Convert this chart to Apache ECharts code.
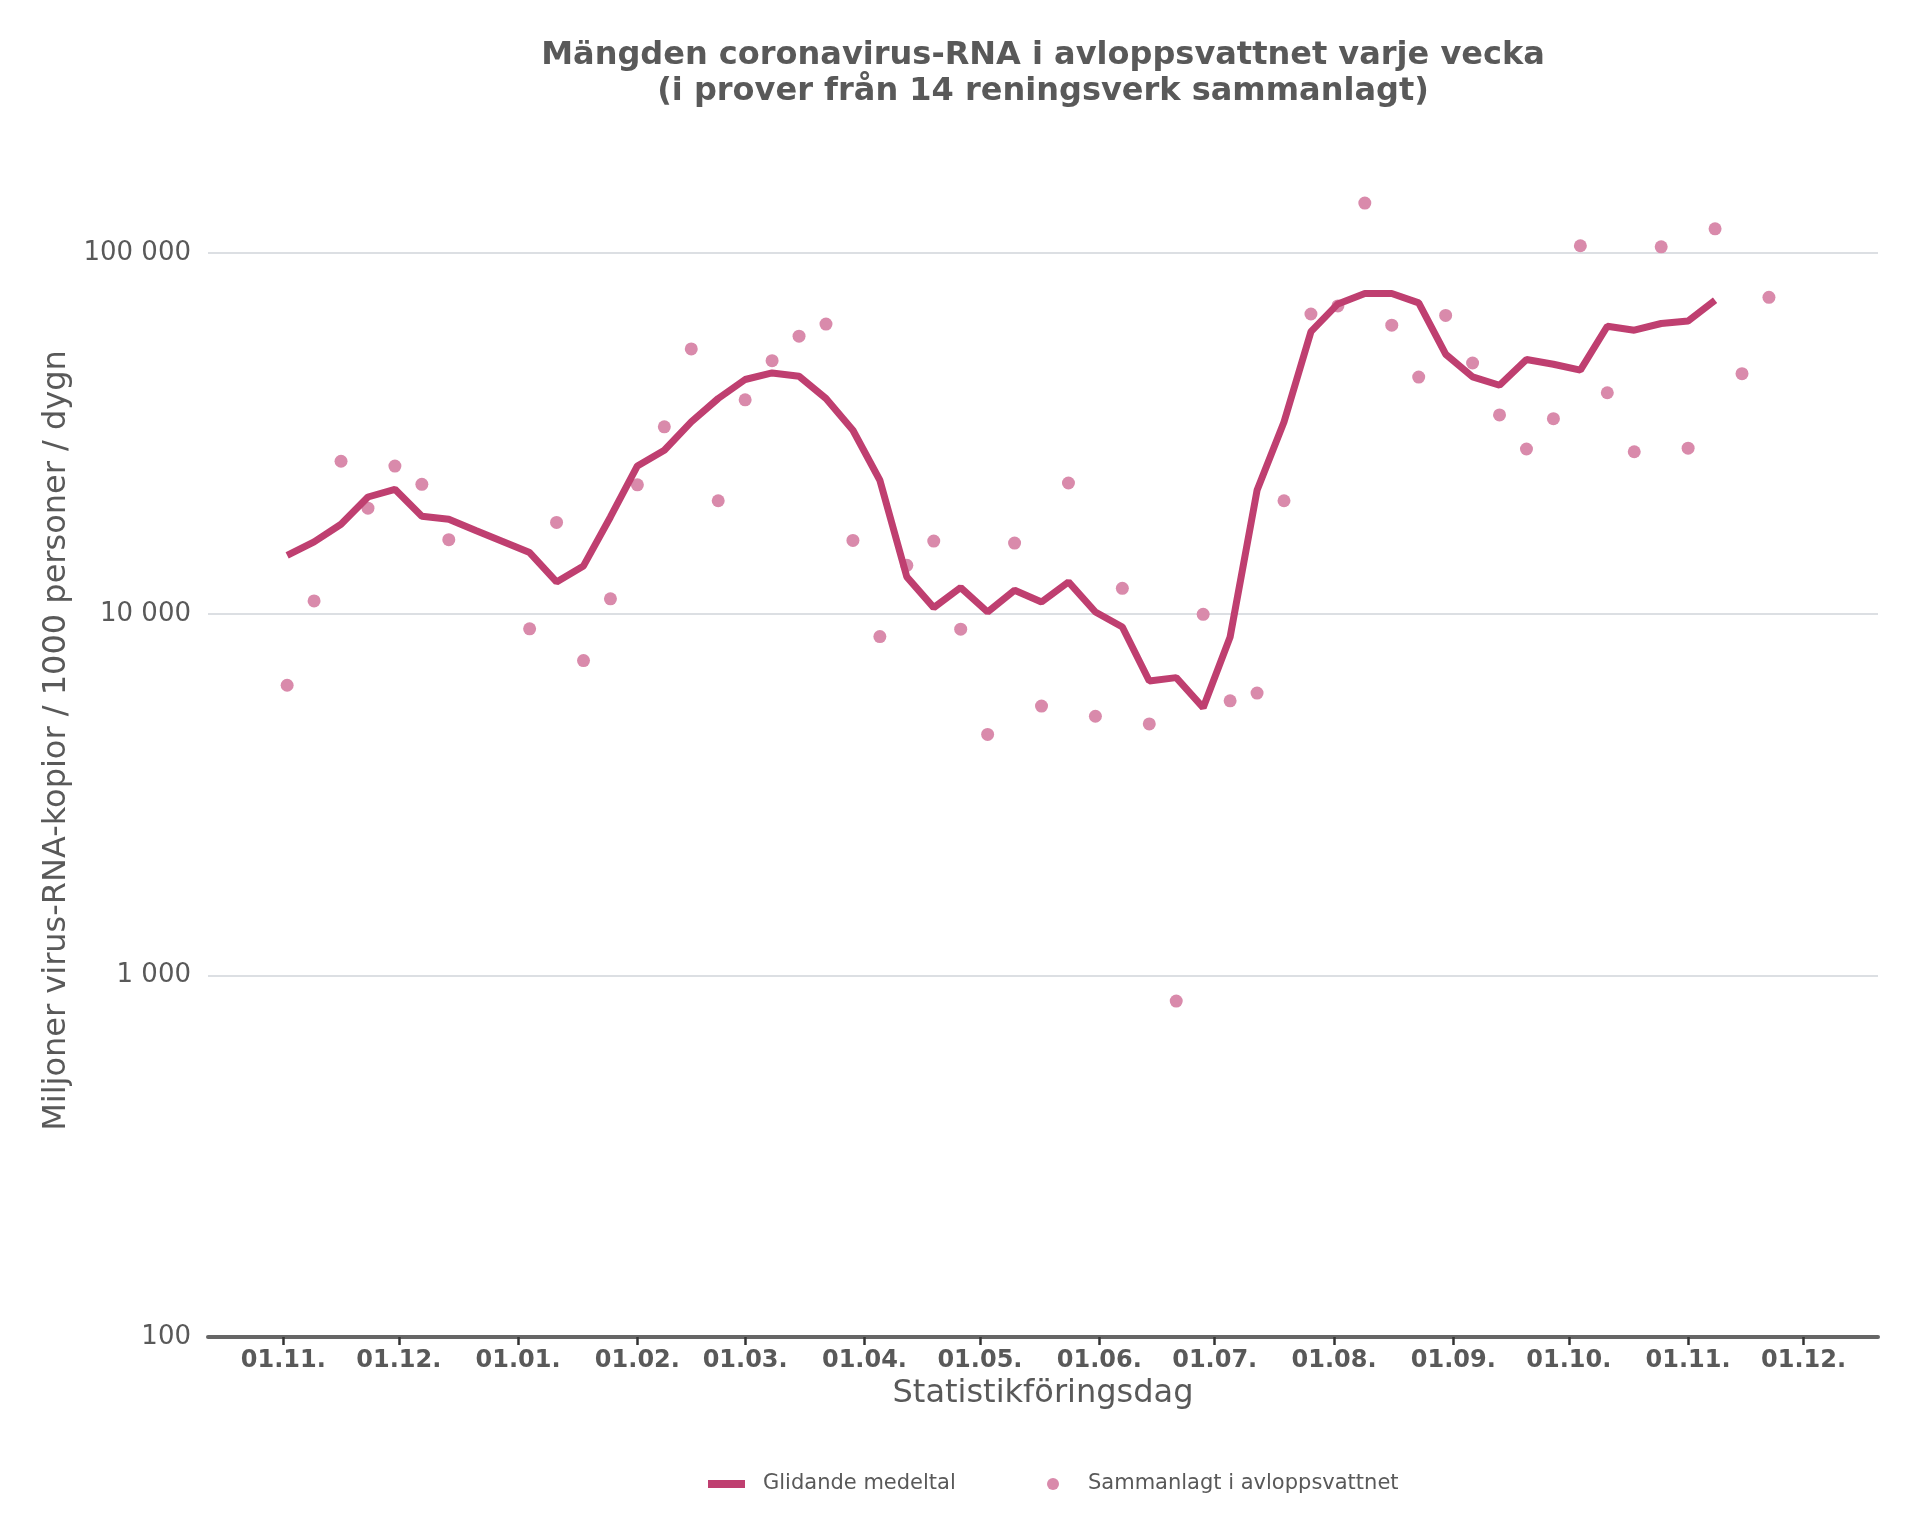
<!DOCTYPE html>
<html>
<head>
<meta charset="utf-8">
<script src="https://cdn.jsdelivr.net/npm/echarts@6/dist/echarts.min.js"></script>
<style>html,body{margin:0;padding:0;background:#fff}#c{width:1920px;height:1536px}</style>
</head>
<body>
<div id="c"></div>
<script>
// Weekly sample dates (statistikföringsdag)
const weekDates = [
  '2021-11-02','2021-11-09','2021-11-16','2021-11-23','2021-11-30','2021-12-07','2021-12-14','2021-12-21','2021-12-28',
  '2022-01-04','2022-01-11','2022-01-18','2022-01-25','2022-02-01','2022-02-08','2022-02-15','2022-02-22',
  '2022-03-01','2022-03-08','2022-03-15','2022-03-22','2022-03-29','2022-04-05','2022-04-12','2022-04-19','2022-04-26',
  '2022-05-03','2022-05-10','2022-05-17','2022-05-24','2022-05-31','2022-06-07','2022-06-14','2022-06-21','2022-06-28',
  '2022-07-05','2022-07-12','2022-07-19','2022-07-26','2022-08-02','2022-08-09','2022-08-16','2022-08-23','2022-08-30',
  '2022-09-06','2022-09-13','2022-09-20','2022-09-27','2022-10-04','2022-10-11','2022-10-18','2022-10-25',
  '2022-11-01','2022-11-08','2022-11-15','2022-11-22'
];
// Glidande medeltal (moving average), starting at weekDates[0]
const movingAvg = [
  14550,15850,17740,21100,22160,18660,18310,17050,15890,
  14810,12280,13600,18580,25720,28420,34040,39520,
  44610,46520,45550,39520,32280,23480,12680,10430,11850,
  10140,11650,10810,12280,10140,9220,6534,6675,5514,
  8648,22020,34040,60500,72200,77160,77160,72670,52400,
  45350,43010,50660,49170,47330,62620,61070,63730,
  64780,73930
];
// Sammanlagt i avloppsvattnet (weekly totals), null = no sample
const totalValues = [
  6360,10880,26500,19650,25700,22880,16080,null,null,
  9110,17950,7440,11030,22800,33000,54200,20600,
  39200,50300,58800,63500,16000,8670,13650,15930,9090,
  4650,15730,5570,23070,5220,11790,4970,850,9990,
  5760,6050,20600,67700,71300,137300,63050,45300,67100,
  49550,35600,28650,34750,104600,41000,28150,103900,
  28800,116500,46300,75300
];
const xTickDates = ['2021-11-01','2021-12-01','2022-01-01','2022-02-01','2022-03-01','2022-04-01','2022-05-01',
  '2022-06-01','2022-07-01','2022-08-01','2022-09-01','2022-10-01','2022-11-01','2022-12-01'];
const xTickLabels = ['01.11.','01.12.','01.01.','01.02.','01.03.','01.04.','01.05.',
  '01.06.','01.07.','01.08.','01.09.','01.10.','01.11.','01.12.'];
const yTickValues = [100, 1000, 10000, 100000];
const yTickLabels = ['100', '1 000', '10 000', '100 000'];

function toTime(s, h, mi) {
  const p = s.split('-').map(Number);
  return Date.UTC(p[0], p[1] - 1, p[2], h || 0, mi || 0);
}
const xTickTimes = xTickDates.map(d => toTime(d));
const FONT = 'DejaVu Sans';
const TXT = '#595959';

const chart = echarts.init(document.getElementById('c'), null, {renderer: 'canvas'});
chart.setOption({
  animation: false,
  backgroundColor: '#ffffff',
  title: {
    text: 'Mängden coronavirus-RNA i avloppsvattnet varje vecka\n(i prover från 14 reningsverk sammanlagt)',
    left: 1038, top: 33, textAlign: 'center',
    textStyle: {fontFamily: FONT, fontSize: 32, fontWeight: 'bold', color: TXT, lineHeight: 36}
  },
  legend: [
    {
      data: [{name: 'Glidande medeltal', icon: 'rect'}],
      left: 708, top: 1473.5, padding: 0, itemWidth: 37, itemHeight: 8, selectedMode: false,
      textStyle: {fontFamily: FONT, fontSize: 21, color: TXT, padding: [0, 0, 0, 13]}
    },
    {
      data: [{name: 'Sammanlagt i avloppsvattnet', icon: 'circle'}],
      left: 1047, top: 1473.5, padding: 0, itemWidth: 12, itemHeight: 12, selectedMode: false,
      textStyle: {fontFamily: FONT, fontSize: 21, color: TXT, padding: [0, 0, 0, 24]}
    }
  ],
  grid: {left: 208, right: 42, top: 144, bottom: 199, containLabel: false},
  xAxis: {
    type: 'value',
    min: toTime('2021-10-12', 10, 30),
    max: toTime('2022-12-20', 8, 0),
    name: 'Statistikföringsdag',
    nameLocation: 'middle',
    nameGap: 41,
    nameTextStyle: {fontFamily: FONT, fontSize: 32, color: TXT},
    axisLine: {show: true, lineStyle: {color: '#666666', width: 4}},
    axisTick: {show: true, length: 8, customValues: xTickTimes, lineStyle: {color: '#333333', width: 2.5}},
    axisLabel: {
      customValues: xTickTimes,
      margin: 12,
      fontFamily: FONT, fontSize: 24, fontWeight: 'bold', color: TXT,
      formatter: function (v) {
        for (let i = 0; i < xTickTimes.length; i++) {
          if (Math.abs(xTickTimes[i] - v) < 3600000) return xTickLabels[i];
        }
        return '';
      }
    },
    splitLine: {show: false}
  },
  yAxis: {
    type: 'log',
    logBase: 10,
    min: 100,
    max: 200000,
    name: 'Miljoner virus-RNA-kopior / 1000 personer / dygn',
    nameLocation: 'middle',
    nameGap: 119,
    nameTextStyle: {fontFamily: FONT, fontSize: 32, color: TXT},
    axisLine: {show: false},
    axisTick: {show: false},
    axisLabel: {
      margin: 17,
      fontFamily: FONT, fontSize: 26, color: TXT,
      showMaxLabel: false,
      formatter: function (v) {
        for (let i = 0; i < yTickValues.length; i++) {
          if (Math.abs(v - yTickValues[i]) / yTickValues[i] < 1e-6) return yTickLabels[i];
        }
        return '';
      }
    },
    splitLine: {show: true, showMaxLine: false, lineStyle: {color: '#dcdfe3', width: 2}}
  },
  series: [
    {
      name: 'Sammanlagt i avloppsvattnet',
      type: 'scatter',
      z: 2,
      symbol: 'circle',
      symbolSize: 13,
      itemStyle: {color: '#d98aab', opacity: 1},
      data: weekDates.map((d, i) => [toTime(d), totalValues[i]]).filter(p => p[1] !== null)
    },
    {
      name: 'Glidande medeltal',
      type: 'line',
      z: 3,
      symbol: 'none',
      showSymbol: false,
      lineStyle: {color: '#bf3f70', width: 7},
      itemStyle: {color: '#bf3f70'},
      data: movingAvg.map((v, i) => [toTime(weekDates[i]), v])
    }
  ]
});
</script>
</body>
</html>
